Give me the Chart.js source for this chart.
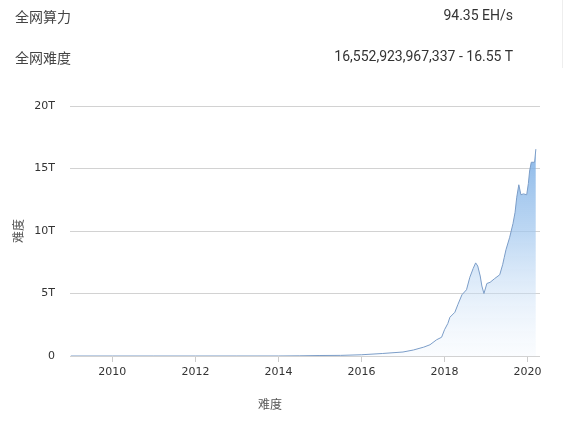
<!DOCTYPE html>
<html>
<head>
<meta charset="utf-8">
<script src="https://cdn.jsdelivr.net/npm/chart.js@4/dist/chart.umd.min.js"></script>
<style>
  body { margin: 0; background: #fff; }
  #wrap { position: relative; width: 569px; height: 423px; overflow: hidden; }
  #chart { position: absolute; left: 0; top: 0; }
  .row { position: absolute; left: 15px; width: 498px; font: 14px "Noto Sans CJK SC", "Noto Sans", sans-serif; color: #444; }
  .row .val { position: absolute; right: 0; top: 1px; color: #333; font-family: Roboto, "Noto Sans", sans-serif; }
  #sep { position: absolute; left: 562px; top: 0; width: 1px; height: 68px; background: #eee; }
</style>
</head>
<body>
<div id="wrap">
  <canvas id="chart" width="569" height="423"></canvas>
  <div class="row" style="top:6px">全网算力<span class="val">94.35 EH/s</span></div>
  <div class="row" style="top:47px">全网难度<span class="val">16,552,923,967,337 - 16.55 T</span></div>
  <div id="sep"></div>
</div>
<script>
// Aika desimaalivuosina ja vaikeus biljoonina (T)
const years = [
  2009.0, 2010.0, 2011.0, 2012.0, 2013.0, 2014.0, 2014.5, 2015.0, 2015.5, 2016.0,
  2016.5, 2017.0, 2017.25, 2017.5, 2017.65, 2017.81, 2017.93, 2018.0, 2018.08, 2018.13,
  2018.25, 2018.32, 2018.42, 2018.53, 2018.61, 2018.69, 2018.75, 2018.8, 2018.86, 2018.9,
  2018.95, 2019.02, 2019.1, 2019.21, 2019.33, 2019.4, 2019.44, 2019.48, 2019.57, 2019.65,
  2019.7, 2019.74, 2019.79, 2019.84, 2019.9, 2019.98, 2020.02, 2020.05, 2020.09, 2020.17,
  2020.2
];
const difficulty = [
  0, 0, 0.000001, 0.0000012, 0.000003, 0.0014, 0.016, 0.04, 0.05, 0.1,
  0.2, 0.32, 0.48, 0.71, 0.9, 1.3, 1.5, 2.1, 2.6, 3.1,
  3.5, 4.1, 4.9, 5.3, 6.3, 7.0, 7.45, 7.2, 6.4, 5.6,
  5.0, 5.8, 5.9, 6.2, 6.5, 7.3, 7.9, 8.5, 9.5, 10.6,
  11.5, 12.7, 13.7, 12.9, 12.97, 12.9, 13.8, 14.8, 15.5, 15.5,
  16.55
];
const xTickYears = [2010, 2012, 2014, 2016, 2018, 2020];
const yTicks = [0, 5, 10, 15, 20];
const axisTitle = '难度';

const tickFont = { family: '"DejaVu Sans", sans-serif', size: 11 };
const titleFont = { family: '"Noto Sans CJK SC", sans-serif', size: 12 };

// Täyttö liukuvärillä ylhäältä alas
function areaGradient(context) {
  const area = context.chart.chartArea;
  if (!area) return 'rgba(120,170,225,0.5)';
  const g = context.chart.ctx.createLinearGradient(0, area.top, 0, area.bottom);
  g.addColorStop(0, 'rgba(98,158,222,0.95)');
  g.addColorStop(0.5, 'rgba(160,198,238,0.7)');
  g.addColorStop(1, 'rgba(235,243,252,0.25)');
  return g;
}

new Chart(document.getElementById('chart'), {
  type: 'line',
  data: {
    datasets: [{
      data: years.map((y, i) => ({ x: y, y: difficulty[i] })),
      borderColor: '#7b9dc8',
      borderWidth: 1,
      backgroundColor: areaGradient,
      fill: 'origin',
      pointRadius: 0,
      tension: 0
    }]
  },
  options: {
    responsive: false,
    animation: false,
    layout: { padding: { top: 106, right: 29, left: 0, bottom: 0 } },
    plugins: {
      legend: { display: false },
      tooltip: { enabled: false },
      title: {
        display: true,
        position: 'bottom',
        text: axisTitle,
        color: '#555',
        font: { ...titleFont, weight: 'normal' },
        padding: { top: 0, bottom: 11 }
      }
    },
    scales: {
      x: {
        type: 'linear',
        min: 2008.98,
        max: 2020.3,
        afterBuildTicks: s => { s.ticks = xTickYears.map(v => ({ value: v })); },
        afterFit: s => { s.height = 41.6; },
        grid: { drawOnChartArea: false, drawTicks: true, tickLength: 6, color: '#ccc' },
        border: { display: false },
        ticks: { color: '#333', font: tickFont, padding: 4, maxRotation: 0, callback: v => String(v) }
      },
      y: {
        min: 0,
        max: 20,
        afterBuildTicks: s => { s.ticks = yTicks.map(v => ({ value: v })); },
        afterFit: s => { s.width = 70; },
        grid: { drawTicks: false, color: '#d2d2d2' },
        border: { display: false },
        ticks: { color: '#333', font: tickFont, padding: 15, callback: v => (v === 0 ? '0' : v + 'T') },
        title: { display: true, text: axisTitle, color: '#555', font: titleFont, padding: { top: 11, bottom: 0 } }
      }
    }
  }
});
</script>
</body>
</html>
